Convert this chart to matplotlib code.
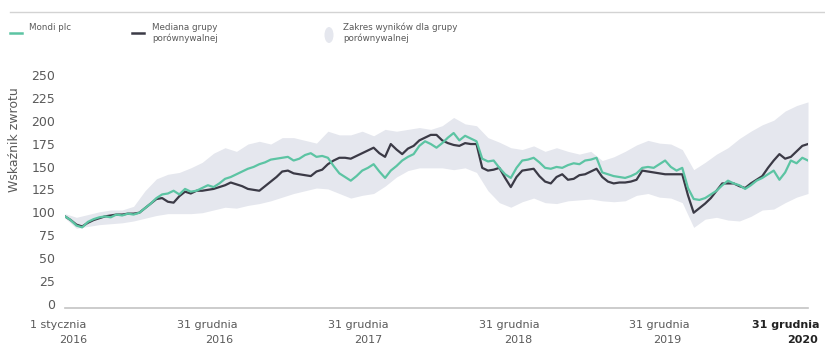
import matplotlib
matplotlib.use("Agg")
import matplotlib.pyplot as plt
import matplotlib.transforms as mtransforms
from matplotlib.lines import Line2D
from matplotlib.patches import Ellipse
import pandas as pd

# Total return index, rebased to 100 on 1 Jan 2016 (two-week steps)
mondi = [100, 96, 90, 88, 94, 97, 99, 100, 99, 102, 101, 103, 102, 104, 109, 114,
         120, 124, 125, 128, 124, 130, 127, 128, 131, 134, 132, 136, 141, 143, 146, 149,
         152, 154, 157, 159, 162, 163, 164, 165, 161, 163, 167, 169, 165, 166, 164, 155,
         147, 143, 139, 144, 150, 153, 157, 149, 142, 150, 155, 161, 165, 168, 177, 182,
         179, 175, 180, 186, 191, 183, 188, 185, 182, 163, 160, 161, 153, 146, 142, 153,
         161, 162, 164, 159, 153, 152, 154, 153, 156, 158, 157, 161, 162, 164, 148, 146,
         144, 143, 142, 144, 147, 153, 154, 153, 157, 161, 154, 150, 153, 131, 119, 118,
         120, 124, 128, 134, 139, 136, 134, 130, 134, 139, 142, 146, 150, 140, 148, 161,
         158, 164, 161]

peer_median = [100, 96, 91, 89, 93, 96, 98, 100, 101, 102, 102, 103, 103, 104, 109, 114,
               119, 120, 116, 115, 122, 127, 125, 128, 128, 129, 130, 132, 134, 137, 135, 133,
               130, 129, 128, 133, 138, 143, 149, 150, 147, 146, 145, 144, 149, 151, 157, 161,
               164, 164, 163, 166, 169, 172, 175, 169, 165, 179, 173, 168, 174, 177, 183, 186,
               189, 189, 183, 180, 178, 177, 180, 179, 179, 153, 150, 151, 153, 142, 132, 143,
               150, 151, 152, 144, 138, 136, 143, 146, 140, 141, 145, 146, 149, 152, 143, 138,
               136, 137, 137, 138, 140, 150, 149, 148, 147, 146, 146, 146, 146, 123, 104, 109,
               114, 120, 128, 136, 136, 136, 133, 131, 136, 140, 144, 153, 161, 168, 163, 165,
               171, 177, 179]

# Peer group range (roughly four-week steps)
peer_high = [103, 99, 102, 105, 107, 107, 111, 128, 141, 146, 148, 153, 159, 169, 175, 171,
             179, 182, 179, 186, 186, 183, 180, 193, 189, 189, 193, 188, 195, 193, 195, 197,
             195, 199, 208, 201, 199, 186, 181, 175, 173, 177, 171, 175, 171, 168, 171, 161,
             165, 171, 178, 183, 180, 179, 173, 151, 159, 168, 175, 185, 193, 200, 205, 215,
             221, 225]
peer_low = [98, 87, 89, 91, 92, 93, 95, 98, 101, 103, 103, 103, 104, 107, 110, 109,
            112, 114, 117, 121, 125, 128, 131, 130, 125, 120, 123, 125, 133, 143, 150, 153,
            153, 153, 151, 153, 148, 128, 115, 110, 116, 120, 115, 114, 117, 118, 119, 117,
            116, 117, 123, 125, 121, 120, 115, 88, 97, 99, 96, 95, 100, 107, 108, 115,
            121, 125]

y_ticks = [0, 25, 50, 75, 100, 125, 150, 175, 200, 225, 250]
date_lines = ["1 stycznia", "31 grudnia", "31 grudnia", "31 grudnia", "31 grudnia", "31 grudnia"]
year_lines = ["2016", "2016", "2017", "2018", "2019", "2020"]

start, end = "2016-01-01", "2020-12-31"
line_dates = pd.date_range(start, end, periods=len(mondi))
band_dates = pd.date_range(start, end, periods=len(peer_high))

TEAL = "#5cc4a3"
DARK = "#3b3a46"
BAND = "#e5e7ee"
TEXT = "#5a5a5a"

plt.rcParams["font.family"] = ["DejaVu Sans"]

W, H = 825, 349
fig = plt.figure(figsize=(W / 100, H / 100), dpi=100)


def fx(px):
    return px / W


def fy(py):
    return 1 - py / H


ax = fig.add_axes([fx(65), fy(308), fx(808) - fx(65), fy(79) - fy(308)])

ax.fill_between(band_dates, peer_low, peer_high, color=BAND, lw=0)
ax.plot(line_dates, peer_median, color=DARK, lw=1.6)
ax.plot(line_dates, mondi, color=TEAL, lw=1.6)

ax.set_xlim(pd.Timestamp(start), pd.Timestamp(end))
ax.set_ylim(0, 250)
ax.set_yticks(y_ticks)
ax.tick_params(axis="y", length=0, pad=7, labelsize=9, labelcolor=TEXT)
ax.set_xticks([])
for side in ["top", "left", "right"]:
    ax.spines[side].set_visible(False)
ax.spines["bottom"].set_color("#c4c4c4")
ax.spines["bottom"].set_linewidth(1.2)

# nudge y labels up a little, as in the house style
lift = mtransforms.ScaledTranslation(0, 0.04, fig.dpi_scale_trans)
for lab in ax.get_yticklabels():
    lab.set_transform(lab.get_transform() + lift)

fig.text(fx(15), fy(140), "Wskaźnik zwrotu", rotation=90, ha="center", va="center",
         fontsize=9, color=TEXT)

# two-row date labels under the axis
date_x = [58, 207, 358, 509, 659, 786]
year_x = [73, 219, 368, 518, 667, 802]
for i in range(len(date_lines)):
    weight = "bold" if i == len(date_lines) - 1 else "normal"
    col = "#222222" if weight == "bold" else TEXT
    fig.text(fx(date_x[i]), fy(325), date_lines[i], ha="center", va="center",
             fontsize=8, color=col, fontweight=weight)
    fig.text(fx(year_x[i]), fy(340), year_lines[i], ha="center", va="center",
             fontsize=8, color=col, fontweight=weight)

# legend row
fig.add_artist(Line2D([fx(10), fx(825)], [fy(12), fy(12)], color="#d3d3d3", lw=1))
fig.add_artist(Line2D([fx(10), fx(22)], [fy(33), fy(33)], color=TEAL, lw=1.8))
fig.text(fx(29), fy(27), "Mondi plc", ha="left", va="center", fontsize=6.3, color=TEXT)
fig.add_artist(Line2D([fx(132), fx(144)], [fy(33), fy(33)], color=DARK, lw=1.8))
fig.text(fx(152), fy(27), "Mediana grupy", ha="left", va="center", fontsize=6.3, color=TEXT)
fig.text(fx(152), fy(38), "porównywalnej", ha="left", va="center", fontsize=6.3, color=TEXT)
fig.add_artist(Ellipse((fx(329), fy(35)), fx(9), 16 / H, color=BAND, lw=0))
fig.text(fx(343), fy(27), "Zakres wyników dla grupy", ha="left", va="center",
         fontsize=6.3, color=TEXT)
fig.text(fx(343), fy(38), "porównywalnej", ha="left", va="center", fontsize=6.3, color=TEXT)

fig.savefig("out.png", dpi=100)
